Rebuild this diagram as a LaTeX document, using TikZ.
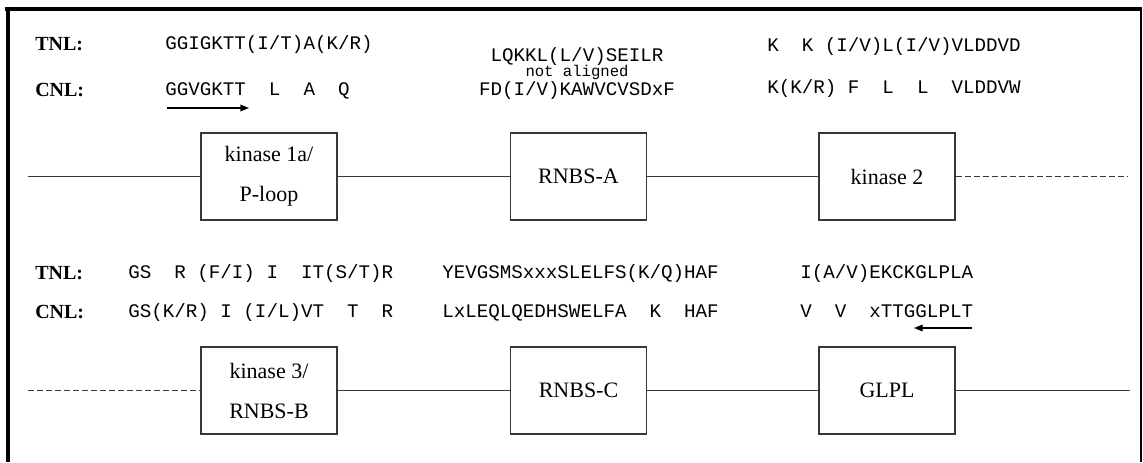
\documentclass[tikz,border=0pt]{standalone}
\usepackage{fontspec}
\setmainfont{Liberation Serif}
\setmonofont{Liberation Mono}
\usetikzlibrary{arrows.meta}
\definecolor{linecol}{RGB}{55,55,55}

\begin{document}
\begin{tikzpicture}[
        x=0.75pt, y=-0.75pt,
        %% one unit = one pixel of the 1143x462 frame
        domainbox/.style={rectangle, draw=linecol, line width=1pt, fill=white, minimum width=102pt, minimum height=65.25pt, align=center, font=\fontsize{16.5}{30}\selectfont},
        seq/.style={anchor=west, inner sep=0pt, text height=8pt, text depth=0pt, font=\ttfamily\fontsize{14.4}{16}\selectfont},
        seqlabel/.style={anchor=west, inner sep=0pt, text height=10pt, text depth=0pt, font=\bfseries\fontsize{15}{18}\selectfont},
        note/.style={inner sep=0pt, font=\ttfamily\fontsize{11.7}{13}\selectfont},
        backbone/.style={draw=linecol, line width=1pt},
        dashbone/.style={backbone, dash pattern=on 4.5pt off 2.25pt},
        arrow/.style={-{Triangle[length=6.5pt, width=5pt]}, line width=1pt, color=black},
        borderline/.style={line width=3pt}
    ]
    \useasboundingbox (0,0) rectangle (1143,462);

    %% --- frame (cut at the bottom) ---
    \draw[borderline] (5,9) -- (1142,9);
    \draw[borderline] (8,7) -- (8,462);
    \draw[line width=1.1pt] (1141,9) -- (1141,462);

    %% --- upper row: motif alignments ---
    \node[seqlabel] (tnlUp) at (35,44) {TNL:};
    \node[seqlabel] (cnlUp) at (35,90) {CNL:};

    \node[seq] (tnlKinA) at (165,44) {GGIGKTT(I/T)A(K/R)};
    \node[seq] (cnlKinA) at (165,90) {GGVGKTT~~L~~A~~Q};

    \node[seq, anchor=center] (tnlRnbsA) at (577,56) {LQKKL(L/V)SEILR};
    \node[note] (notAligned) at (577,72) {not aligned};
    \node[seq, anchor=center] (cnlRnbsA) at (577,90) {FD(I/V)KAWVCVSDxF};

    \node[seq] (tnlKinB) at (767,46) {K~~K~(I/V)L(I/V)VLDDVD};
    \node[seq] (cnlKinB) at (767,88) {K(K/R)~F~~L~~L~~VLDDVW};

    \coordinate (fwdStart) at (167,108);
    \coordinate (fwdEnd)   at (249,108);
    \draw[arrow] (fwdStart) -- (fwdEnd);

    %% --- upper row: domains ---
    \node[domainbox] (kinA)  at (269,176.5)   {kinase 1a/\\P-loop};
    \node[domainbox] (rnbsA) at (578.5,176.5) {RNBS-A};
    \node[domainbox] (kinB)  at (887,176.5)   {kinase 2};

    \coordinate (upLeft)  at (28,176.5);
    \coordinate (upRight) at (1127,176.5);
    \draw[backbone] (upLeft) -- (kinA) -- (rnbsA) -- (kinB);
    \draw[dashbone] (kinB) -- (upRight);

    %% --- lower row: motif alignments ---
    \node[seqlabel] (tnlLow) at (35,273) {TNL:};
    \node[seqlabel] (cnlLow) at (35,312) {CNL:};

    \node[seq] (tnlKinC) at (128,273) {GS~~R~(F/I)~I~~IT(S/T)R};
    \node[seq] (cnlKinC) at (128,312) {GS(K/R)~I~(I/L)VT~~T~~R};

    \node[seq] (tnlRnbsC) at (442,273) {YEVGSMSxxxSLELFS(K/Q)HAF};
    \node[seq] (cnlRnbsC) at (442,312) {LxLEQLQEDHSWELFA~~K~~HAF};

    \node[seq] (tnlGlpl) at (800,273) {I(A/V)EKCKGLPLA};
    \node[seq] (cnlGlpl) at (800,312) {V~~V~~xTTGGLPLT};

    \coordinate (revStart) at (972,328);
    \coordinate (revEnd)   at (914,328);
    \draw[arrow] (revStart) -- (revEnd);

    %% --- lower row: domains ---
    \node[domainbox] (kinC)  at (269,390.5)   {kinase 3/\\RNBS-B};
    \node[domainbox] (rnbsC) at (578.5,390.5) {RNBS-C};
    \node[domainbox] (glpl)  at (887,390.5)   {GLPL};

    \coordinate (lowLeft)  at (28,390.5);
    \coordinate (lowRight) at (1130,390.5);
    \draw[dashbone] (lowLeft) -- (kinC);
    \draw[backbone] (kinC) -- (rnbsC) -- (glpl) -- (lowRight);
\end{tikzpicture}
\end{document}
